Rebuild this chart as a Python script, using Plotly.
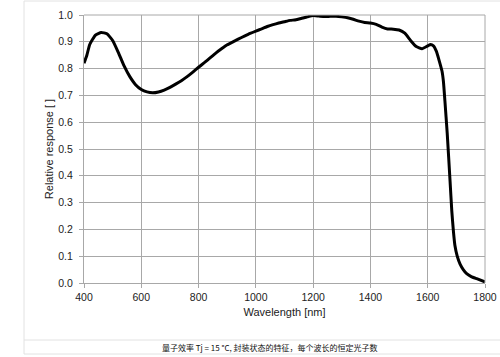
import plotly.graph_objects as go

wavelength_nm = [400, 410, 420, 440, 460, 480, 500, 520, 540, 560, 580, 600, 620, 640, 660, 680,
                 700, 720, 740, 760, 780, 800, 820, 840, 860, 880, 900, 920, 940, 960, 980,
                 1000, 1020, 1040, 1060, 1080, 1100, 1120, 1140, 1160, 1180, 1200, 1220, 1240,
                 1260, 1280, 1300, 1320, 1340, 1360, 1380, 1400, 1420, 1440, 1460, 1480, 1500,
                 1520, 1540, 1560, 1580, 1600, 1610, 1620, 1630, 1640, 1650, 1655, 1660, 1668,
                 1678, 1684, 1690, 1695, 1703, 1713, 1724, 1736, 1752, 1771, 1800]
relative_response = [0.82, 0.85, 0.89, 0.925, 0.935, 0.93, 0.905, 0.86, 0.81, 0.77, 0.74, 0.722,
                     0.713, 0.71, 0.713, 0.72, 0.73, 0.742, 0.755, 0.77, 0.787, 0.805, 0.822,
                     0.84, 0.858, 0.874, 0.889, 0.9, 0.911, 0.921, 0.931, 0.94, 0.948, 0.957,
                     0.964, 0.97, 0.975, 0.98, 0.982, 0.988, 0.993, 0.998, 0.996, 0.994, 0.995,
                     0.995, 0.993, 0.99, 0.984, 0.977, 0.972, 0.97, 0.965, 0.955, 0.948, 0.947,
                     0.944, 0.932, 0.905, 0.882, 0.874, 0.885, 0.89, 0.885, 0.865, 0.83, 0.79,
                     0.75, 0.68, 0.56, 0.38, 0.27, 0.19, 0.14, 0.1, 0.07, 0.05, 0.035, 0.024,
                     0.016, 0.004]

x_ticks = [400, 600, 800, 1000, 1200, 1400, 1600, 1800]
y_ticks = [0.0, 0.1, 0.2, 0.3, 0.4, 0.5, 0.6, 0.7, 0.8, 0.9, 1.0]

caption = "量子效率 Tj = 15 °C, 封装状态的特征，每个波长的恒定光子数"

W, H = 500, 357
L, R, T, B = 84, 485, 15, 283


def px(x):
    return (x - L) / (R - L)


def py(y):
    return (B - y) / (B - T)


grid = "#a8a8a8"
fig = go.Figure()
fig.add_trace(go.Scatter(x=wavelength_nm, y=relative_response, mode="lines",
                         line=dict(color="black", width=3, shape="spline", smoothing=0.4),
                         showlegend=False, hoverinfo="skip"))

fig.update_layout(
    template="none",
    width=W, height=H,
    margin=dict(l=L, r=W - R, t=T, b=H - B, autoexpand=False),
    paper_bgcolor="white", plot_bgcolor="white",
    font=dict(family="Liberation Sans, Arial, sans-serif", size=10.5, color="#222"),
    xaxis=dict(range=[400, 1800], tickvals=x_ticks, ticktext=[str(v) for v in x_ticks],
               automargin=False,
               showgrid=True, gridcolor=grid, gridwidth=1, showline=True, linecolor=grid,
               linewidth=1, ticks="outside", ticklen=4, tickcolor=grid, zeroline=False,
               title=dict(text="Wavelength [nm]", font=dict(size=11), standoff=6)),
    yaxis=dict(range=[0, 1], tickvals=y_ticks, ticktext=[f"{v:.1f}" for v in y_ticks],
               automargin=False, ticklabelstandoff=4,
               showgrid=True, gridcolor=grid, gridwidth=1, showline=True, linecolor=grid,
               linewidth=1, ticks="outside", ticklen=4, tickcolor=grid, zeroline=False,
               title=dict(text="Relative response [ ]", font=dict(size=11), standoff=2)),
    shapes=[
        dict(type="rect", xref="paper", yref="paper", x0=px(24), x1=px(505), y0=py(354), y1=py(1),
             line=dict(color="#e2e2e2", width=1), layer="below"),
        dict(type="line", xref="paper", yref="paper", x0=px(24), x1=px(505), y0=py(340), y1=py(340),
             line=dict(color="#e2e2e2", width=1)),
        dict(type="line", xref="paper", yref="paper", x0=1, x1=1, y0=0, y1=1,
             line=dict(color=grid, width=1)),
        dict(type="line", xref="paper", yref="paper", x0=0, x1=1, y0=1, y1=1,
             line=dict(color=grid, width=1)),
    ],
    annotations=[dict(text=caption, xref="paper", yref="paper", x=px(270), y=py(347),
                      showarrow=False, xanchor="center", yanchor="middle",
                      font=dict(family="Noto Sans CJK SC", size=8, color="#111"))],
)

fig.write_html("out.html", config={"displayModeBar": False},
               post_script="document.body.style.margin='0';document.body.style.overflow='hidden';")
